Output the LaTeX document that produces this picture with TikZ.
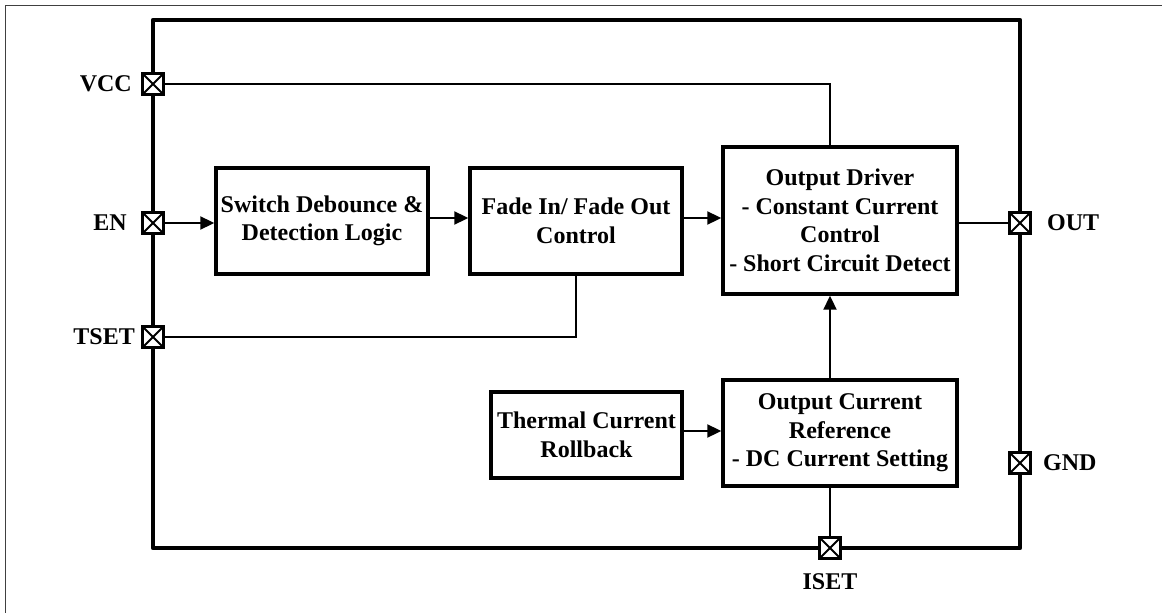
\documentclass[tikz,border=0pt]{standalone}
\usepackage{fontspec}
\setmainfont{Liberation Serif}
\usetikzlibrary{arrows.meta}
\tikzset{
  blk/.style={draw, line width=3.4pt, align=center, inner sep=0pt, font=\fontsize{24}{28.5}\selectfont\bfseries},
  pinbox/.style={draw, line width=2.5pt, fill=white, minimum size=21pt, inner sep=0pt,
    path picture={\draw[line width=1.8pt] (path picture bounding box.south west) -- (path picture bounding box.north east)
      (path picture bounding box.north west) -- (path picture bounding box.south east);}},
  lbl/.style={inner sep=0pt, font=\fontsize{24}{28}\selectfont\bfseries},
  wire/.style={line width=2pt},
  arr/.style={wire, -{Triangle[length=14pt,width=13pt]}},
  chip/.style={line width=4.5pt, line join=round},
  frame/.style={line width=1pt, draw=black!75}
}
\begin{document}
\begin{tikzpicture}[x=1pt,y=-1pt]
\useasboundingbox (0,0) rectangle (1162,613);
\draw[frame] (5,613) -- (5,5) -- (1162,5);
\draw[chip] (153,20) rectangle (1020,548);
% blocks
\node[blk, minimum width=212pt, minimum height=106pt] (sw) at (322,221) {Switch Debounce \&\\Detection Logic};
\node[blk, minimum width=212pt, minimum height=106pt] (fd) at (576,221) {Fade In/ Fade Out\\Control};
\node[blk, minimum width=234pt, minimum height=147pt] (drv) at (840,220.5) {Output Driver\\- Constant Current\\Control\\- Short Circuit Detect};
\node[blk, minimum width=191pt, minimum height=86pt] (th) at (586.5,435) {Thermal Current\\Rollback};
\node[blk, minimum width=234pt, minimum height=106pt] (ocr) at (840,433) {Output Current\\Reference\\- DC Current Setting};
% pins
\node[pinbox] (vcc) at (153,84) {};
\node[pinbox] (en) at (153,223) {};
\node[pinbox] (tset) at (153,337) {};
\node[pinbox] (out) at (1020,223) {};
\node[pinbox] (gnd) at (1020,463) {};
\node[pinbox] (iset) at (830,548) {};
\coordinate (vdrop) at (830,147);
% labels
\node[lbl, anchor=east] (lvcc) at (132,84) {VCC};
\node[lbl, anchor=east] (len) at (127,223) {EN};
\node[lbl, anchor=east] (ltset) at (135,337) {TSET};
\node[lbl, anchor=west] (lout) at (1047,223) {OUT};
\node[lbl, anchor=west] (lgnd) at (1043,463) {GND};
\node[lbl] (liset) at (830,582) {ISET};
% connectors
\draw[wire] (vcc.east) -| (vdrop);
\draw[arr] (en.east) -- (en.east -| sw.west);
\draw[arr] (sw.east |- 0,218) -- (fd.west |- 0,218);
\draw[arr] (fd.east |- 0,218) -- (drv.west |- 0,218);
\draw[wire] (fd.south) |- (tset.east);
\draw[wire] (out.west -| drv.east) -- (out.west);
\draw[arr] (th.east |- 0,431) -- (ocr.west |- 0,431);
\draw[arr] (ocr.north -| iset) -- (drv.south -| iset);
\draw[wire] (iset.north) -- (iset |- ocr.south);
\end{tikzpicture}
\end{document}
